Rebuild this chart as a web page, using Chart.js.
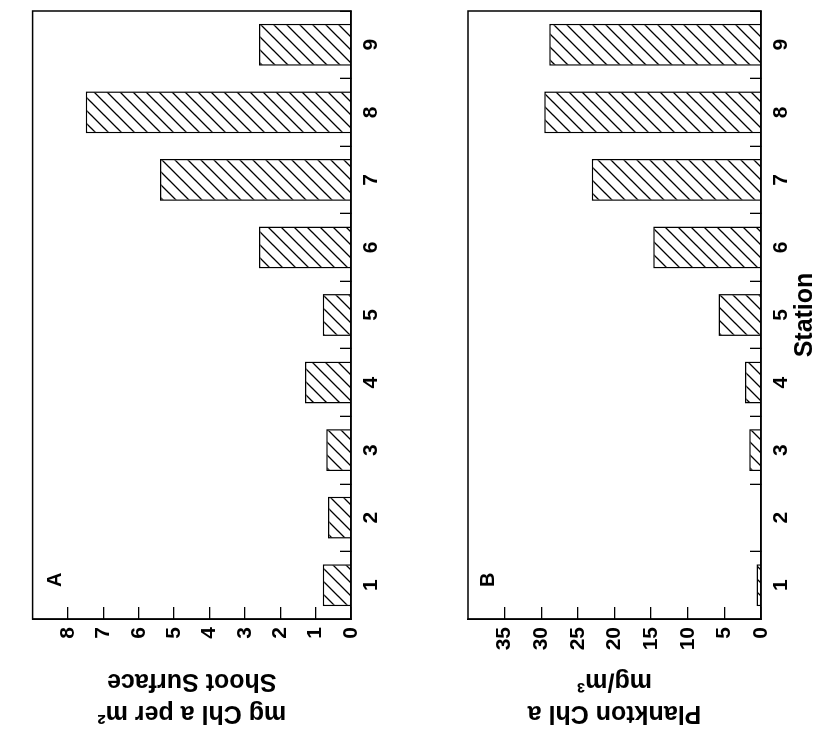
<!DOCTYPE html>
<html>
<head>
<meta charset="utf-8">
<script src="https://cdn.jsdelivr.net/npm/chart.js@4.4.1/dist/chart.umd.min.js"></script>
<style>
  html, body { margin: 0; padding: 0; background: #fff; overflow: hidden; }
  /* the figure is drawn upright and then turned a quarter to the left, like the scan */
  #figure { position: absolute; left: 0; top: 0; width: 739px; height: 827px;
    transform-origin: 0 0; transform: translateY(739px) rotate(-90deg); background: #fff; }
  #figure canvas { position: absolute; left: 0; }
</style>
</head>
<body>
<div id="figure">
  <canvas id="shootCanvas" width="739" height="410" style="top:0"></canvas>
  <canvas id="planktonCanvas" width="739" height="417" style="top:410px"></canvas>
</div>
<script>
// data
const stations = ['1', '2', '3', '4', '5', '6', '7', '8', '9'];
const shootChl = [0.8, 0.65, 0.7, 1.3, 0.8, 2.6, 5.4, 7.5, 2.6];      // mg Chl a per m2 shoot surface
const planktonChl = [0.6, 0, 1.6, 2.2, 5.8, 14.7, 23.1, 29.6, 28.9];  // mg Chl a per m3
const shootTitle = ['mg Chl a per m²', 'Shoot Surface'];
const planktonTitle = ['Plankton Chl a', 'mg/m³'];

Chart.defaults.font.family = '"Liberation Sans", Arial, Helvetica, sans-serif';
Chart.defaults.color = '#000';

//---------------------- HELPERS

function makeHatch(canvasId) {
    const size = 13;
    const tile = document.createElement('canvas');
    tile.width = size;
    tile.height = size;
    const g = tile.getContext('2d');
    g.fillStyle = '#fff';
    g.fillRect(0, 0, size, size);
    g.strokeStyle = '#000';
    g.lineWidth = 1.3;
    g.beginPath();
    g.moveTo(-1, size + 1); g.lineTo(size + 1, -1);
    g.moveTo(-1, 1); g.lineTo(1, -1);
    g.moveTo(size - 1, size + 1); g.lineTo(size + 1, size - 1);
    g.stroke();
    return document.getElementById(canvasId).getContext('2d').createPattern(tile, 'repeat');
}

// box round the plot and the panel letter
const framePlugin = {
    id: 'frame',
    afterDraw(chart, args, opts) {
        const {ctx, chartArea: a} = chart;
        ctx.save();
        ctx.strokeStyle = '#000';
        ctx.lineWidth = 1.5;
        ctx.strokeRect(a.left, a.top, a.right - a.left, a.bottom - a.top);
        ctx.fillStyle = '#000';
        ctx.font = 'bold 20px "Liberation Sans", Arial, sans-serif';
        ctx.textBaseline = 'top';
        ctx.fillText(opts.label, a.left + opts.dx, a.top + opts.dy);
        ctx.restore();
    }
};

function plotPanel(canvasId, values, cfg) {
    return new Chart(document.getElementById(canvasId).getContext('2d'), {
        type: 'bar',
        data: {
            labels: stations,
            datasets: [{
                data: values,
                backgroundColor: makeHatch(canvasId),
                borderColor: '#000',
                borderWidth: 1.5,
                categoryPercentage: 1,
                barPercentage: 0.62
            }]
        },
        options: {
            responsive: false,
            animation: false,
            layout: { padding: { top: cfg.top, right: 11, left: 0, bottom: 0 } },
            plugins: {
                legend: { display: false },
                tooltip: { enabled: false },
                frame: { label: cfg.label, dx: 32, dy: cfg.labelDy }
            },
            scales: {
                x: {
                    grid: { offset: true, drawOnChartArea: false, tickLength: -11, color: '#000', lineWidth: 1.3 },
                    border: { display: true, color: '#000', width: 1.5 },
                    ticks: { padding: 19, maxRotation: 0, font: { size: 21, weight: 'bold' } },
                    title: {
                        display: cfg.xTitle !== '',
                        text: cfg.xTitle,
                        font: { size: 25, weight: 'bold', lineHeight: 1.2 },
                        padding: { top: 0, bottom: 7 }
                    },
                    afterFit: s => { s.height = cfg.xHeight; }
                },
                y: {
                    min: 0,
                    max: cfg.max,
                    ticks: { stepSize: cfg.step, padding: 20, font: { size: 21, weight: 'bold' } },
                    afterBuildTicks: s => { s.ticks = s.ticks.filter(t => t.value < cfg.max); },
                    grid: { drawOnChartArea: false, tickLength: -12, color: '#000', lineWidth: 1.3 },
                    border: { display: true, color: '#000', width: 1.5 },
                    title: {
                        display: true,
                        text: cfg.yTitle,
                        font: { size: 25, weight: 'bold', lineHeight: 1.28 },
                        padding: { top: 10, bottom: 0 }
                    },
                    afterFit: s => { s.width = 120; }
                }
            }
        },
        plugins: [framePlugin]
    });
}

//---------------------- CALLS

plotPanel('shootCanvas', shootChl, {
    label: 'A', labelDy: 13, top: 13, max: 9, step: 1,
    yTitle: shootTitle, xTitle: '', xHeight: 59
});
plotPanel('planktonCanvas', planktonChl, {
    label: 'B', labelDy: 10, top: 58, max: 40, step: 5,
    yTitle: planktonTitle, xTitle: 'Station', xHeight: 66
});
</script>
</body>
</html>
